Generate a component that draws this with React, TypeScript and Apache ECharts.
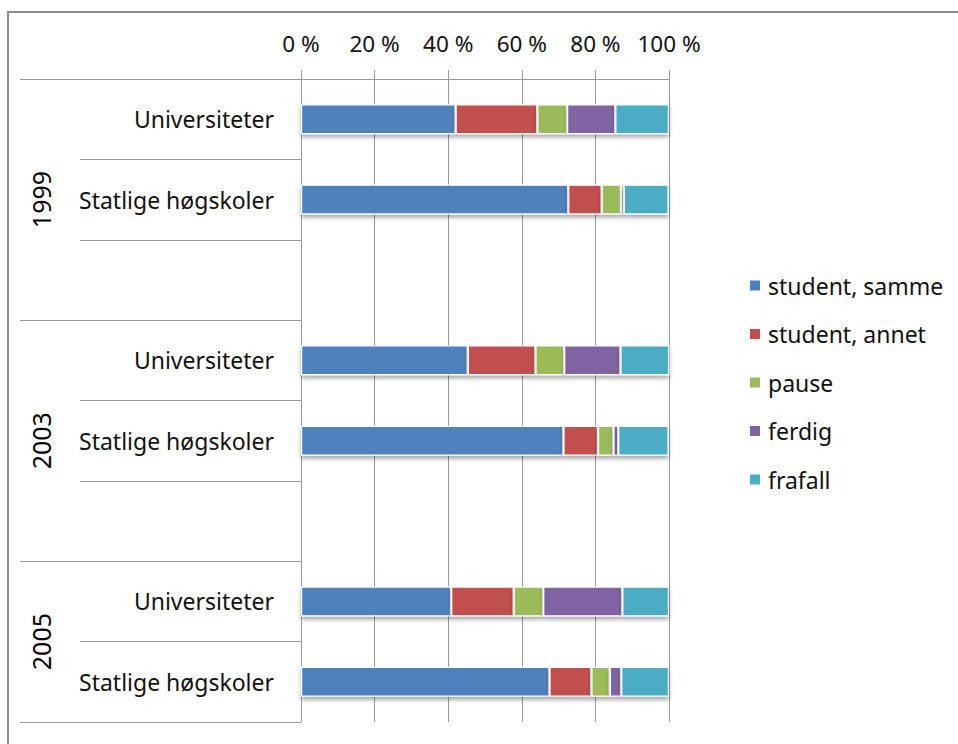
import React, { useEffect, useRef } from "react";
import * as echarts from "echarts";

const categories = ["Universiteter", "Statlige høgskoler", "", "Universiteter", "Statlige høgskoler", "", "Universiteter", "Statlige høgskoler"];
const groupLabels = ["1999", "2003", "2005"];
const groupCenters = [1.5, 4.5, 7];
const groupBounds = [0, 3, 6, 8];
const seriesNames = ["student, samme", "student, annet", "pause", "ferdig", "frafall"];
const studentSamme = [42.0, 72.6, null, 45.3, 71.3, null, 40.8, 67.5];
const studentAnnet = [22.2, 9.1, null, 18.4, 9.4, null, 17.0, 11.4];
const pause = [8.1, 5.2, null, 7.8, 4.2, null, 8.0, 5.0];
const ferdig = [13.1, 0.8, null, 15.3, 1.3, null, 21.5, 3.1];
const frafall = [14.6, 12.2, null, 13.3, 13.7, null, 12.7, 13.0];
const xTicks = [0, 20, 40, 60, 80, 100];
const colors = ["#4F81BD", "#C0504D", "#9BBB59", "#8064A2", "#4BACC6"];

const FONT = "Noto Sans";

export default function App() {
  const ref = useRef<HTMLDivElement>(null);
  useEffect(() => {
    document.body.style.margin = "0";
    const chart = echarts.init(ref.current!, null, { renderer: "svg" });
    const data = [studentSamme, studentAnnet, pause, ferdig, frafall];
    chart.setOption({
      animation: false,
      backgroundColor: "#ffffff",
      textStyle: { fontFamily: FONT },
      grid: { left: 301, top: 79, right: 289, bottom: 22, containLabel: false },
      legend: {
        orient: "vertical",
        left: 748,
        top: 274,
        padding: 0,
        icon: "rect",
        itemWidth: 12,
        itemHeight: 12,
        itemGap: 25.5,
        textStyle: { fontFamily: FONT, fontSize: 23, color: "#111", lineHeight: 23, padding: [0, 0, 0, 2] },
        data: seriesNames,
      },
      xAxis: {
        type: "value",
        position: "top",
        min: xTicks[0],
        max: xTicks[xTicks.length - 1],
        interval: 20,
        axisLine: { show: true, lineStyle: { color: "#9a9a9a", width: 1 } },
        axisTick: { show: true, length: 9, lineStyle: { color: "#9a9a9a" } },
        splitLine: { show: true, lineStyle: { color: "#9a9a9a", width: 1 } },
        axisLabel: { formatter: "{value} %", fontSize: 22.5, color: "#111", fontFamily: FONT, margin: 24 },
      },
      yAxis: [
        {
          type: "category",
          data: categories,
          inverse: true,
          position: "left",
          axisLine: { show: true, lineStyle: { color: "#9a9a9a" } },
          axisTick: { show: true, length: 221, lineStyle: { color: "#9a9a9a" } },
          axisLabel: { fontSize: 23, color: "#111", fontFamily: FONT, margin: 27 },
          splitLine: { show: false },
        },
        {
          type: "value",
          inverse: true,
          position: "left",
          min: 0,
          max: 8,
          axisLine: { show: false },
          axisTick: { show: true, length: 281, customValues: groupBounds, lineStyle: { color: "#9a9a9a" } },
          axisLabel: {
            customValues: groupCenters,
            formatter: (v: number) => groupLabels[groupCenters.indexOf(v)] ?? "",
            rotate: 90,
            fontSize: 25,
            color: "#000",
            fontFamily: FONT,
            margin: 248,
          },
          splitLine: { show: false },
        },
      ],
      series: seriesNames.map((name, i) => ({
        name,
        type: "bar",
        stack: "total",
        yAxisIndex: 0,
        barWidth: 30,
        data: data[i],
        itemStyle: {
          color: colors[i],
          borderColor: "#ffffff",
          borderWidth: 1.2,
          shadowColor: "rgba(0,0,0,0.35)",
          shadowBlur: 4,
          shadowOffsetY: 3,
        },
      })),
      graphic: [
        {
          type: "rect",
          shape: { x: 8, y: 12, width: 960, height: 740 },
          style: { fill: "none", stroke: "#8a8a8a", lineWidth: 2 },
          silent: true,
          z: 100,
        },
      ],
    });
    return () => chart.dispose();
  }, []);
  return <div ref={ref} style={{ width: 958, height: 744 }} />;
}
